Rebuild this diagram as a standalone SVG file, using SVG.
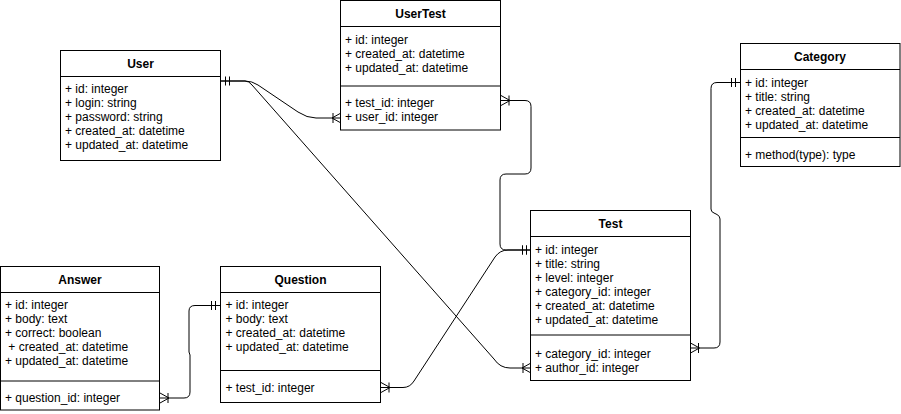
<svg xmlns="http://www.w3.org/2000/svg" width="901" height="414" viewBox="0 0 901 414">
<style>
.box{fill:#fff;stroke:#000;stroke-width:1}
.sep{stroke:#000;stroke-width:1;fill:none}
.t{font-family:"Liberation Sans",Arial,Helvetica,sans-serif;font-size:12px;fill:#000}
.h{font-weight:bold;text-anchor:middle}
.c{fill:none;stroke:#000;stroke-width:1}
</style>
<defs>
<marker id="one" markerUnits="userSpaceOnUse" markerWidth="14" markerHeight="12" refX="0" refY="0" orient="auto-start-reverse" overflow="visible">
<path d="M-4.5,-4.5V4.5M-8.5,-4.5V4.5" fill="none" stroke="#000" stroke-width="1"/>
</marker>
<marker id="many" markerUnits="userSpaceOnUse" markerWidth="14" markerHeight="12" refX="0" refY="0" orient="auto-start-reverse" overflow="visible">
<path d="M-8,-5V5M0,-5L-9,0L0,5" fill="none" stroke="#000" stroke-width="1"/>
</marker>
</defs>
<g id="connectors">
<path class="c" d="M221,81H245Q252,81 258,85L298,112Q307,118 316,118H341" marker-start="url(#one)" marker-end="url(#many)"/>
<path class="c" d="M221,81H245Q249,81 252,85L494,359Q500,368 510,368H531" marker-end="url(#many)"/>
<path class="c" d="M501,100.5H525Q531,100.5 531,106.5V168Q531,174 525,174H506Q500,174 500,180V244Q500,250 506,250H531" marker-start="url(#many)" marker-end="url(#one)"/>
<path class="c" d="M740,82.5H717Q711,82.5 711,88.5V209Q711,212 714,213L717,214.5Q720,216 720,219V342Q720,348 714,348H690.5" marker-start="url(#one)" marker-end="url(#many)"/>
<path class="c" d="M381,387.5H403Q410,387.5 414,381L495,257Q500,250 508,250H531" marker-start="url(#many)" marker-end="url(#one)"/>
<path class="c" d="M160,398H184Q190,398 190,392V355L189,352V311Q189,305.5 195,305.5H220" marker-start="url(#many)" marker-end="url(#one)"/>
</g>
<g id="User">
<rect class="box" x="60.5" y="50.5" width="160" height="110"/>
<line class="sep" x1="60.5" y1="76.5" x2="220.5" y2="76.5"/>
<text class="t h" x="140.5" y="68">User</text>
<text class="t" x="65" y="93">+ id: integer</text>
<text class="t" x="65" y="107">+ login: string</text>
<text class="t" x="65" y="121">+ password: string</text>
<text class="t" x="65" y="135">+ created_at: datetime</text>
<text class="t" x="65" y="149">+ updated_at: datetime</text>
</g>
<g id="UserTest">
<rect class="box" x="340.5" y="0.5" width="160" height="129.5"/>
<line class="sep" x1="340.5" y1="26.5" x2="500.5" y2="26.5"/>
<line class="sep" x1="340.5" y1="86" x2="500.5" y2="86"/>
<text class="t h" x="420.5" y="18">UserTest</text>
<text class="t" x="345" y="44">+ id: integer</text>
<text class="t" x="345" y="58">+ created_at: datetime</text>
<text class="t" x="345" y="72">+ updated_at: datetime</text>
<text class="t" x="345" y="107">+ test_id: integer</text>
<text class="t" x="345" y="121">+ user_id: integer</text>
</g>
<g id="Category">
<rect class="box" x="740.5" y="43.5" width="159.5" height="123"/>
<line class="sep" x1="740.5" y1="69.5" x2="900" y2="69.5"/>
<line class="sep" x1="740.5" y1="137.5" x2="900" y2="137.5"/>
<text class="t h" x="820" y="61">Category</text>
<text class="t" x="745" y="87">+ id: integer</text>
<text class="t" x="745" y="101">+ title: string</text>
<text class="t" x="745" y="115">+ created_at: datetime</text>
<text class="t" x="745" y="129">+ updated_at: datetime</text>
<text class="t" x="745" y="159">+ method(type): type</text>
</g>
<g id="Test">
<rect class="box" x="530.5" y="210.5" width="160" height="170"/>
<line class="sep" x1="530.5" y1="236.5" x2="690.5" y2="236.5"/>
<line class="sep" x1="530.5" y1="335" x2="690.5" y2="335"/>
<text class="t h" x="610.5" y="227.5">Test</text>
<text class="t" x="535" y="254">+ id: integer</text>
<text class="t" x="535" y="268">+ title: string</text>
<text class="t" x="535" y="282">+ level: integer</text>
<text class="t" x="535" y="296">+ category_id: integer</text>
<text class="t" x="535" y="310">+ created_at: datetime</text>
<text class="t" x="535" y="324">+ updated_at: datetime</text>
<text class="t" x="535" y="358">+ category_id: integer</text>
<text class="t" x="535" y="372">+ author_id: integer</text>
</g>
<g id="Answer">
<rect class="box" x="0.5" y="266.5" width="159" height="143.5"/>
<line class="sep" x1="0.5" y1="292.5" x2="159.5" y2="292.5"/>
<line class="sep" x1="0.5" y1="381" x2="159.5" y2="381"/>
<text class="t h" x="80" y="284">Answer</text>
<text class="t" x="5" y="309">+ id: integer</text>
<text class="t" x="5" y="323">+ body: text</text>
<text class="t" x="5" y="337">+ correct: boolean</text>
<text class="t" x="5" y="351">&#160;+ created_at: datetime</text>
<text class="t" x="5" y="365">+ updated_at: datetime</text>
<text class="t" x="5" y="402">+ question_id: integer</text>
</g>
<g id="Question">
<rect class="box" x="220.5" y="266.5" width="160" height="136"/>
<line class="sep" x1="220.5" y1="292.5" x2="380.5" y2="292.5"/>
<line class="sep" x1="220.5" y1="370.5" x2="380.5" y2="370.5"/>
<text class="t h" x="300.5" y="284">Question</text>
<text class="t" x="225.5" y="309">+ id: integer</text>
<text class="t" x="225.5" y="323">+ body: text</text>
<text class="t" x="225.5" y="337">+ created_at: datetime</text>
<text class="t" x="225.5" y="351">+ updated_at: datetime</text>
<text class="t" x="225.5" y="392">+ test_id: integer</text>
</g>
</svg>
